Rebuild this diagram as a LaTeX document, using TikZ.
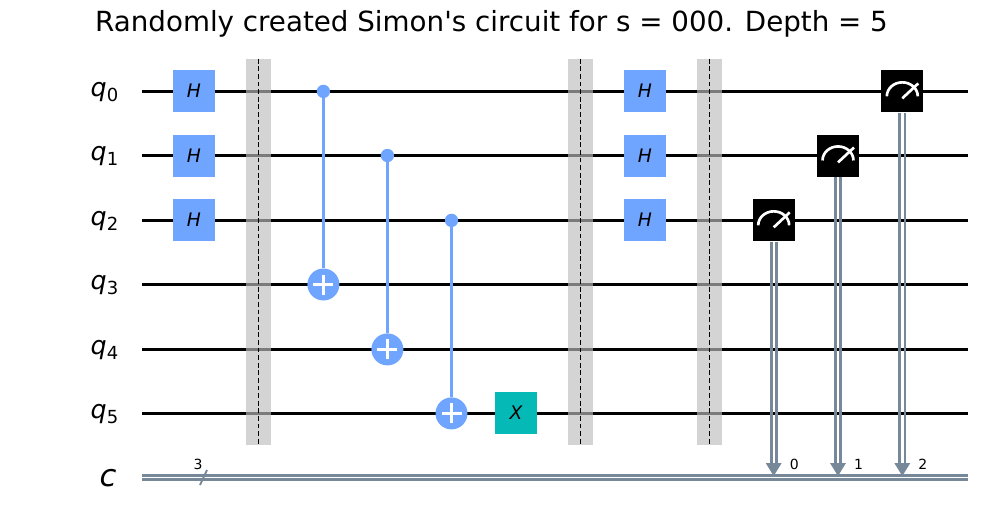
\documentclass[tikz,border=0pt]{standalone}
\usepackage{fontspec}
\setmainfont{DejaVu Sans}
\newfontfamily\titlefont{DejaVu Sans}
\definecolor{gateblue}{HTML}{6FA4FF}
\definecolor{gatecyan}{HTML}{05BAB6}
\definecolor{clgray}{HTML}{778899}
\definecolor{barriergray}{HTML}{BDBDBD}
\tikzset{
	wire/.style={line width=2.2pt,black},
	clwire/.style={line width=2pt,clgray},
	hgate/.style={fill=gateblue,minimum size=31.5pt,inner sep=0pt,font=\fontsize{14}{14}\selectfont\itshape},
	xgate/.style={hgate,fill=gatecyan},
	mgate/.style={fill=black,minimum size=31.5pt,inner sep=0pt},
	ctrl/.style={circle,fill=gateblue,minimum size=10pt,inner sep=0pt},
	targ/.style={circle,fill=gateblue,minimum size=24pt,inner sep=0pt},
	cnotline/.style={line width=2.2pt,gateblue},
	plusline/.style={line width=2.2pt,white},
	barrierbar/.style={fill=barriergray,fill opacity=0.65,minimum width=18.75pt,minimum height=289.5pt,inner sep=0pt},
	barrierline/.style={line width=0.9pt,black,dash pattern=on 3.7pt off 2pt},
	reglabel/.style={font=\fontsize{19}{19}\selectfont},
	small/.style={font=\fontsize{10.5}{10.5}\selectfont,inner sep=0pt},
}
\begin{document}
\begin{tikzpicture}[x=0.75pt,y=-0.75pt]
\useasboundingbox (0,0) rectangle (983,526);

\node[font=\fontsize{20.8}{20.8}\selectfont\titlefont] (title) at (491.5,24) {Randomly created Simon's circuit for s = 000. Depth = 5};

% Hilos
	\foreach \n/\y in {0/91.4, 1/155.5, 2/220.4, 3/284.5, 4/349.4, 5/413.4} {
		\coordinate (w\n) at (142,\y);
		\coordinate (e\n) at (968,\y);
		\draw[wire] (w\n) -- (e\n);
		\node[reglabel] (q\n) at (104.5,\y+1) {\textit{q}\raisebox{-0.3ex}{\fontsize{13.5}{13.5}\selectfont\n}};
	}

% Registro clasico
	\coordinate (cw) at (142,477.5);
	\coordinate (ce) at (968,477.5);
	\draw[clwire] ([yshift=1.5pt]cw) -- ([yshift=1.5pt]ce);
	\draw[clwire] ([yshift=-1.5pt]cw) -- ([yshift=-1.5pt]ce);
	\node[font=\fontsize{23}{23}\selectfont\itshape] (clabel) at (108,478) {c};
	\coordinate (sa) at (200,485);
	\coordinate (sb) at (207,470);
	\draw[line width=1.4pt,clgray] (sa) -- (sb);
	\node[small] (cn) at (198,464) {3};

% Barreras
	\foreach \b/\x in {a/258.8, b/580.5, c/709.5} {
		\node[barrierbar] (bar\b) at (\x,252) {};
		\draw[barrierline] (bar\b.north) -- (bar\b.south);
	}

% Puertas H
	\foreach \x/\c in {194/l, 645/r}
		\foreach \n/\y in {0/91, 1/155.5, 2/220}
			\node[hgate] (h\c\n) at (\x,\y) {H};
	\node[xgate] (xg) at (516,413) {X};

% CNOT
	\foreach \i/\x/\a/\b in {0/323.4/91.4/284.5, 1/387.4/155.5/349.4, 2/451.5/220.4/413.4} {
		\node[ctrl] (c\i) at (\x,\a) {};
		\node[targ] (t\i) at (\x,\b) {};
		\draw[cnotline] (c\i) -- (t\i);
		\draw[plusline] ([xshift=-7.5pt]t\i.center) -- ([xshift=7.5pt]t\i.center);
		\draw[plusline] ([yshift=-7.5pt]t\i.center) -- ([yshift=7.5pt]t\i.center);
	}

% Medidas
	\foreach \i/\x/\y in {0/773.7/220.4, 1/838/155.5, 2/902.3/91.4} {
		\node[mgate] (m\i) at (\x,\y) {};
		\coordinate (base\i) at (\x,463);
		\coordinate (tip\i) at (\x,476);
		\draw[clwire] ([xshift=-1.9pt]m\i.south) -- ([xshift=-1.9pt]base\i);
		\draw[clwire] ([xshift=1.9pt]m\i.south) -- ([xshift=1.9pt]base\i);
		\fill[clgray] ([xshift=-6pt]base\i) -- ([xshift=6pt]base\i) -- (tip\i) -- cycle;
		\draw[line width=2pt,white] ([xshift=-11.6pt,yshift=-3.7pt]m\i.center) arc[start angle=180,end angle=0,x radius=11.6pt,y radius=10.5pt];
		\draw[line width=2pt,white] ([yshift=-5.2pt]m\i.center) -- ([xshift=12pt,yshift=6pt]m\i.center);
		\pgfmathsetmacro{\lx}{\x+20.5}
		\node[small] (n\i) at (\lx,464) {\i};
	}
\end{tikzpicture}
\end{document}
